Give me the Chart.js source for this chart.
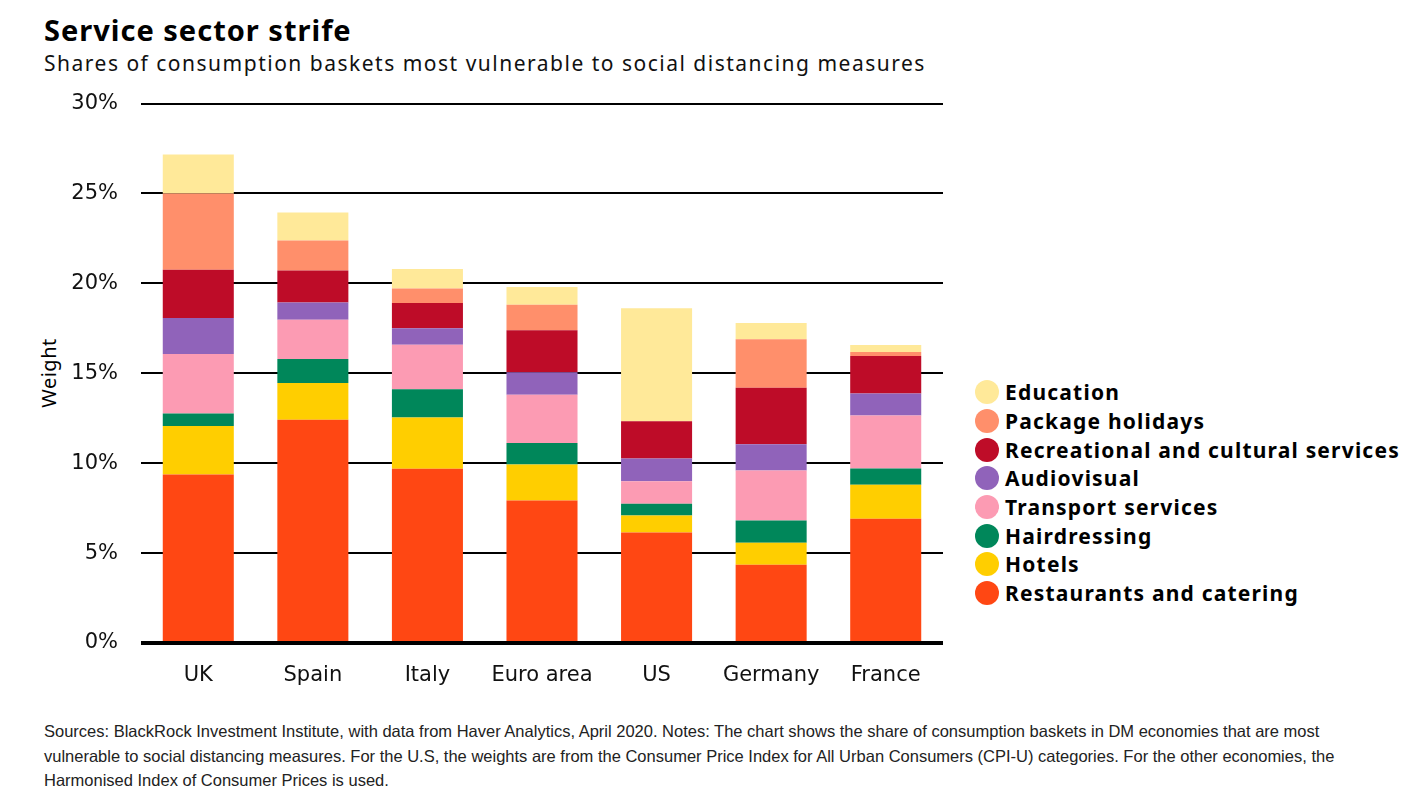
<!DOCTYPE html>
<html>
<head>
<meta charset="utf-8">
<script src="https://cdn.jsdelivr.net/npm/chart.js@4"></script>
<style>
  body { margin: 0; width: 1419px; height: 806px; background: #fff; font-family: 'Noto Sans', sans-serif; color: #000; position: relative; overflow: hidden; }
  .titulo { position: absolute; left: 44px; top: 10px; font-size: 29px; font-weight: 700; letter-spacing: 1px; }
  .subtitulo { position: absolute; left: 44px; top: 49px; font-size: 21px; letter-spacing: 1.5px; color: #111; }
  .grafica { position: absolute; left: 0; top: 68px; width: 950px; height: 632px; }
  .eje-y { position: absolute; left: 48px; top: 373px; transform: translate(-50%, -50%) rotate(-90deg); font-size: 20px; letter-spacing: 0.5px; }
  .leyenda { position: absolute; left: 975px; top: 378px; }
  .leyenda-item { display: flex; align-items: center; height: 28.7px; font-size: 21px; font-weight: 700; letter-spacing: 1.2px; }
  .leyenda-item span.punto { width: 24px; height: 24px; border-radius: 50%; margin-right: 6px; }
  .nota { position: absolute; left: 44px; top: 719px; width: 1330px; font-family: 'Liberation Sans Narrow', 'Liberation Sans', sans-serif; font-size: 16.5px; line-height: 24.5px; color: #222; }
</style>
</head>
<body>
<div class="titulo">Service sector strife</div>
<div class="subtitulo">Shares of consumption baskets most vulnerable to social distancing measures</div>
<div class="eje-y">Weight</div>
<div class="grafica"><canvas id="grafica"></canvas></div>
<div class="leyenda" id="leyenda"></div>
<div class="nota">Sources: BlackRock Investment Institute, with data from Haver Analytics, April 2020. Notes: The chart shows the share of consumption baskets in DM economies that are most vulnerable to social distancing measures. For the U.S, the weights are from the Consumer Price Index for All Urban Consumers (CPI-U) categories. For the other economies, the Harmonised Index of Consumer Prices is used.</div>
<script>
const paises = ['UK', 'Spain', 'Italy', 'Euro area', 'US', 'Germany', 'France'];

const restaurantes = [9.37, 12.41, 9.69, 7.93, 6.15, 4.35, 6.91];
const hoteles = [2.70, 2.05, 2.85, 2.00, 0.94, 1.22, 1.89];
const peluqueria = [0.69, 1.34, 1.57, 1.20, 0.65, 1.24, 0.90];
const transporte = [3.31, 2.18, 2.48, 2.68, 1.26, 2.78, 2.95];
const audiovisual = [2.00, 0.96, 0.91, 1.25, 1.26, 1.47, 1.22];
const recreativos = [2.69, 1.78, 1.41, 2.33, 2.08, 3.13, 2.09];
const paquetes = [4.24, 1.67, 0.81, 1.42, 0, 2.70, 0.22];
const educacion = [2.17, 1.55, 1.08, 0.99, 6.28, 0.91, 0.39];

const ticksY = [0, 5, 10, 15, 20, 25, 30];

const series = [
  { label: 'Restaurants and catering', data: restaurantes, color: '#FF4713' },
  { label: 'Hotels', data: hoteles, color: '#FFCE00' },
  { label: 'Hairdressing', data: peluqueria, color: '#00875A' },
  { label: 'Transport services', data: transporte, color: '#FC9BB3' },
  { label: 'Audiovisual', data: audiovisual, color: '#9063BA' },
  { label: 'Recreational and cultural services', data: recreativos, color: '#BE0C28' },
  { label: 'Package holidays', data: paquetes, color: '#FF8F6B' },
  { label: 'Education', data: educacion, color: '#FFE999' }
];

const leyenda = document.getElementById('leyenda');
series.slice().reverse().forEach(s => {
  const item = document.createElement('div');
  item.className = 'leyenda-item';
  item.innerHTML = `<span class="punto" style="background:${s.color}"></span>${s.label}`;
  leyenda.appendChild(item);
});

new Chart(document.getElementById('grafica'), {
  type: 'bar',
  data: {
    labels: paises,
    datasets: series.map(s => ({
      label: s.label,
      data: s.data,
      backgroundColor: s.color,
      borderWidth: 0,
      categoryPercentage: 1,
      barPercentage: 0.62
    }))
  },
  options: {
    responsive: true,
    maintainAspectRatio: false,
    animation: false,
    layout: { padding: { left: 0, right: 7, top: 11, bottom: 0 } },
    plugins: { legend: { display: false }, tooltip: { enabled: false } },
    scales: {
      x: {
        stacked: true,
        grid: { display: false },
        border: { display: false },
        ticks: { color: '#111', font: { family: 'DejaVu Sans', size: 21 }, padding: 12 },
        afterFit: (escala) => { escala.height = 57; }
      },
      y: {
        stacked: true,
        min: 0,
        max: 30,
        afterBuildTicks: (escala) => { escala.ticks = ticksY.map(v => ({ value: v })); },
        grid: {
          color: '#000',
          lineWidth: (ctx) => ctx.tick && ctx.tick.value === 0 ? 4 : 2,
          drawTicks: false
        },
        border: { display: false },
        ticks: {
          color: '#111',
          font: { family: 'DejaVu Sans', size: 21 },
          padding: 23,
          callback: (v) => v + '%'
        },
        afterFit: (escala) => { escala.width = 141; }
      }
    }
  }
});
</script>
</body>
</html>
